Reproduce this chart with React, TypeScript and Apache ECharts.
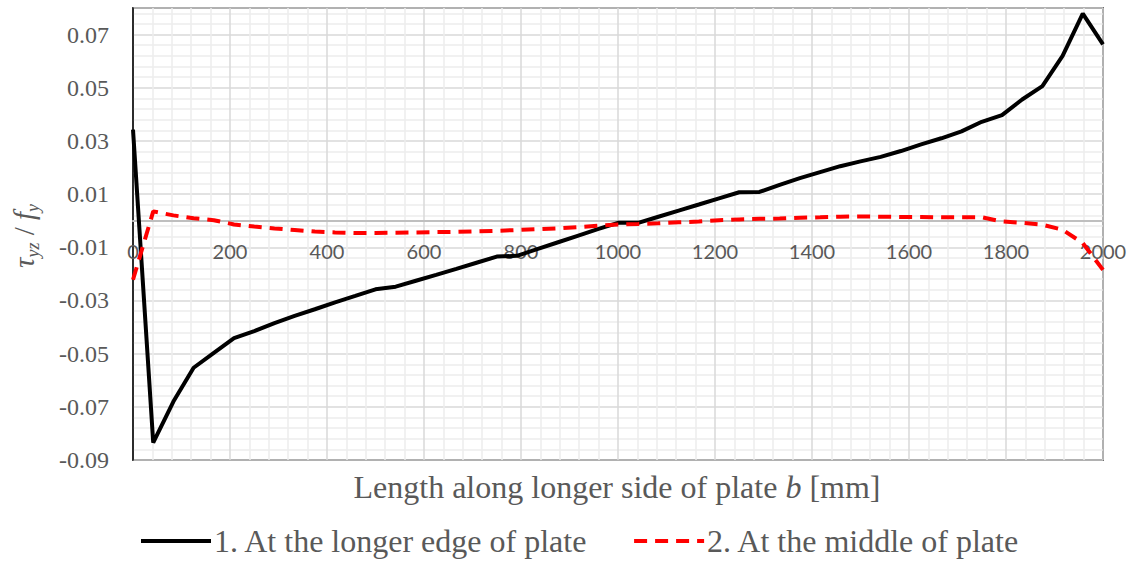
import React, { useEffect, useRef } from "react";
import * as echarts from "echarts";

const positions = [0, 41.7, 83.3, 125, 166.7, 208.3, 250, 291.7, 333.3, 375, 416.7, 458.3, 500, 541.7, 583.3, 625, 666.7, 708.3, 750, 791.7, 833.3, 875, 916.7, 958.3, 1000, 1041.7, 1083.3, 1125, 1166.7, 1208.3, 1250, 1291.7, 1333.3, 1375, 1416.7, 1458.3, 1500, 1541.7, 1583.3, 1625, 1666.7, 1708.3, 1750, 1791.7, 1833.3, 1875, 1916.7, 1958.3, 2000];

const edgeValues = [0.0343, -0.0835, -0.068, -0.0553, -0.0497, -0.0442, -0.0415, -0.0385, -0.0358, -0.0333, -0.0307, -0.0283, -0.0258, -0.0248, -0.0226, -0.0204, -0.0181, -0.0158, -0.0135, -0.0132, -0.0107, -0.0082, -0.0057, -0.0032, -0.0008, -0.0008, 0.0015, 0.0038, 0.0061, 0.0084, 0.0107, 0.0108, 0.0135, 0.016, 0.0183, 0.0205, 0.0223, 0.024, 0.0262, 0.0287, 0.031, 0.0336, 0.0372, 0.0397, 0.0456, 0.0506, 0.062, 0.0779, 0.0663];

const middleValues = [-0.0222, 0.0035, 0.002, 0.0009, 0.0002, -0.0014, -0.0022, -0.0029, -0.0035, -0.0041, -0.0044, -0.0046, -0.0046, -0.0045, -0.0044, -0.0043, -0.0042, -0.004, -0.0038, -0.0035, -0.0032, -0.0029, -0.0024, -0.0019, -0.0014, -0.0012, -0.001, -0.0006, -0.0003, 0.0002, 0.0005, 0.0007, 0.0008, 0.0011, 0.0013, 0.0015, 0.0016, 0.0015, 0.0014, 0.0014, 0.0013, 0.0013, 0.0013, -0.0003, -0.0008, -0.0015, -0.0034, -0.0084, -0.0185];

const seriesNames = ["1. At the longer edge of plate", "2. At the middle of plate"];

const SERIF = "'Liberation Serif', 'Times New Roman', serif";
const SANS = "Lato, 'Open Sans', sans-serif";
const GREY = "#595959";

const Y_MIN = -0.09;
const Y_MAX = 0.08;
const GRID_TOP = 8;
const GRID_BOTTOM = 103;
const PLOT_H = 563 - GRID_TOP - GRID_BOTTOM;
const ZERO_OFFSET = -(PLOT_H * (0 - Y_MIN)) / (Y_MAX - Y_MIN);

export default function App() {
  const ref = useRef<HTMLDivElement>(null);
  useEffect(() => {
    if (!ref.current) return;
    const chart = echarts.init(ref.current, null, { renderer: "svg" });
    chart.setOption({
      animation: false,
      backgroundColor: "#ffffff",
      grid: {
        left: 133,
        right: 33,
        top: GRID_TOP,
        bottom: GRID_BOTTOM,
        show: true,
        borderColor: "#000000",
        borderWidth: 1.5,
      },
      xAxis: {
        type: "value",
        min: 0,
        max: 2000,
        interval: 200,
        offset: ZERO_OFFSET,
        axisLine: { onZero: false, lineStyle: { color: "#bfbfbf", width: 2 } },
        axisTick: { show: false },
        axisLabel: {
          fontFamily: SANS,
          fontSize: 20,
          color: GREY,
          margin: 20,
          formatter: (v: number) => String(Math.round(v)),
        },
        splitLine: { show: true, lineStyle: { color: "#d9d9d9", width: 1.5 } },
        minorTick: { show: false, splitNumber: 5 },
        minorSplitLine: { show: true, lineStyle: { color: "#ededed", width: 1.5 } },
      },
      yAxis: {
        type: "value",
        min: Y_MIN,
        max: Y_MAX,
        interval: 0.02,
        axisLine: { show: true, lineStyle: { color: "#000000", width: 1.5 } },
        axisTick: { show: false },
        axisLabel: {
          fontFamily: SERIF,
          fontSize: 24,
          color: GREY,
          margin: 24,
          formatter: (v: number) => (v > 0.075 ? "" : v.toFixed(2)),
        },
        splitLine: { show: true, lineStyle: { color: "#d9d9d9", width: 1.5 } },
        minorTick: { show: false, splitNumber: 5 },
        minorSplitLine: { show: true, lineStyle: { color: "#ededed", width: 1.5 } },
      },
      legend: {
        bottom: 1,
        left: 134,
        itemWidth: 70,
        itemHeight: 14,
        itemGap: 44,
        itemStyle: { opacity: 0 },
        lineStyle: { width: 4 },
        textStyle: { fontFamily: SERIF, fontSize: 32, color: GREY, padding: [0, 0, 0, -2] },
        data: seriesNames,
      },
      graphic: [
        {
          type: "text",
          x: 24,
          y: 236,
          rotation: Math.PI / 2,
          style: {
            text: "{t|τ}{s|yz}{n| / }{t|f}{s|y}",
            align: "center",
            verticalAlign: "middle",
            fill: GREY,
            rich: {
              t: { fontFamily: SERIF, fontStyle: "italic", fontSize: 29, fill: GREY, lineHeight: 36, verticalAlign: "middle" },
              s: { fontFamily: SERIF, fontStyle: "italic", fontSize: 18, fill: GREY, lineHeight: 36, verticalAlign: "bottom" },
              n: { fontFamily: SERIF, fontSize: 29, fill: GREY, lineHeight: 36, verticalAlign: "middle" },
            },
          },
        },
        {
          type: "text",
          x: 617,
          y: 487,
          style: {
            text: "{n|Length along longer side of plate }{i|b}{n| [mm]}",
            align: "center",
            verticalAlign: "middle",
            fill: GREY,
            rich: {
              n: { fontFamily: SERIF, fontSize: 32, fill: GREY },
              i: { fontFamily: SERIF, fontStyle: "italic", fontSize: 32, fill: GREY },
            },
          },
        },
      ],
      series: [
        {
          name: seriesNames[0],
          type: "line",
          data: positions.map((x, i) => [x, edgeValues[i]]),
          symbol: "none",
          lineStyle: { color: "#000000", width: 4 },
          itemStyle: { color: "#000000" },
        },
        {
          name: seriesNames[1],
          type: "line",
          data: positions.map((x, i) => [x, middleValues[i]]),
          symbol: "none",
          lineStyle: { color: "#ff0000", width: 4, type: [13, 8] },
          itemStyle: { color: "#ff0000" },
        },
      ],
    });
    return () => chart.dispose();
  }, []);
  return (
    <div
      ref={ref}
      style={{ position: "absolute", left: 0, top: 0, width: 1136, height: 563 }}
    />
  );
}
